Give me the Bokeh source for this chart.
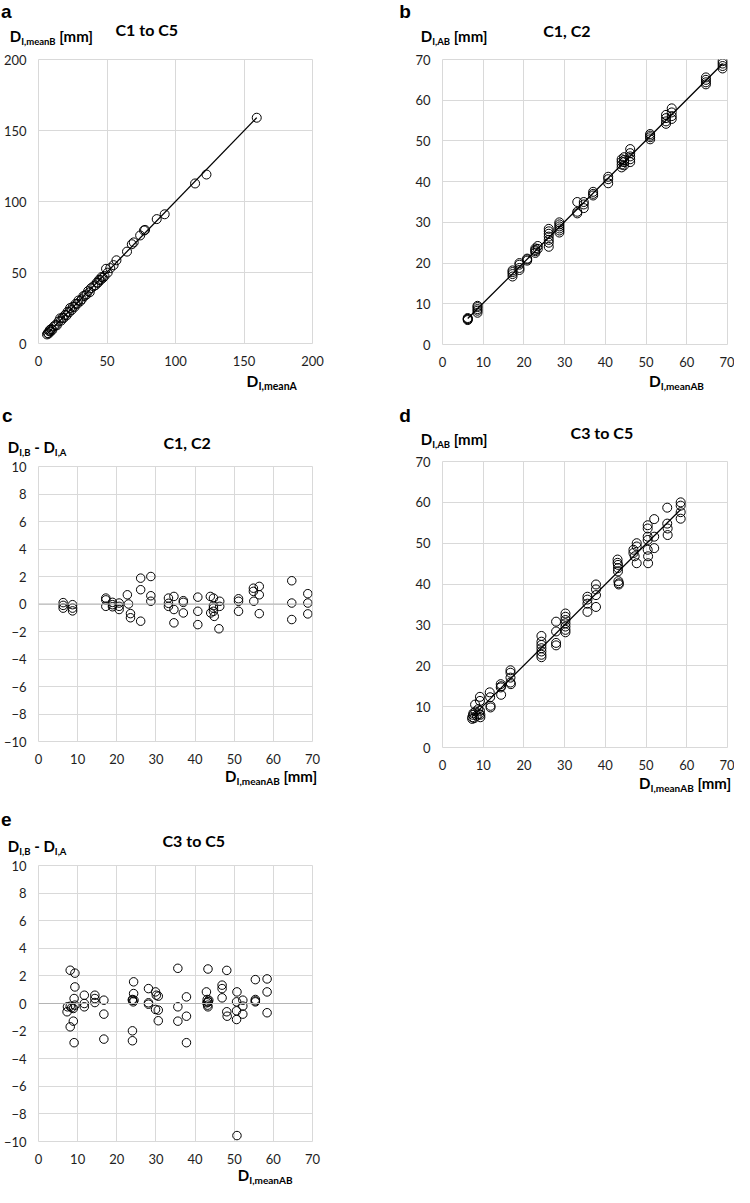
import numpy as np
from bokeh.plotting import figure
from bokeh.layouts import column, row
from bokeh.models import Span, FixedTicker, Range1d, Div
from bokeh.embed import file_html
from bokeh.resources import INLINE

# ---------------- data ----------------
# a: C1 to C5
a_meanA = [6.2, 6.8, 7.4, 7.9, 8.3, 8.8, 9.3, 10.1, 11.2, 12.5,
           13.4, 14.6, 15.8, 16.5, 17.6, 18.3, 19.4, 20.5, 21.3, 22.4,
           23.1, 24.2, 25.0, 26.3, 27.1, 28.4, 29.2, 30.5, 31.6, 32.8,
           33.9, 35.1, 36.2, 37.4, 38.3, 40.1, 41.5, 42.6, 43.4, 44.3,
           45.2, 46.1, 47.0, 48.2, 49.3, 50.5, 52.4, 54.8, 56.9, 64.6,
           68.1, 69.5, 74.2, 77.0, 77.8, 86.3, 92.1, 114.3, 122.6, 159.3]
a_meanB = [6.4, 7.3, 7.0, 8.6, 9.5, 8.4, 10.2, 9.6, 12.0, 13.1,
           12.8, 15.5, 17.7, 16.1, 18.2, 17.9, 20.1, 19.8, 22.4, 22.0,
           25.0, 23.6, 25.8, 25.7, 27.9, 28.0, 30.3, 29.8, 31.1, 33.4,
           33.7, 34.6, 36.9, 36.1, 38.9, 40.3, 41.0, 42.9, 42.8, 44.9,
           44.6, 46.8, 46.2, 47.5, 52.6, 49.9, 53.1, 55.2, 58.6, 64.7,
           69.9, 71.2, 76.1, 79.6, 80.0, 87.6, 91.0, 112.7, 119.0, 159.0]

# b: C1, C2  (D_I,meanAB vs D_I,AB)
b_meanAB = [6.2, 6.2, 6.2, 6.2,
            8.6, 8.6, 8.6, 8.6, 8.6,
            17.2, 17.2, 17.2, 17.2,
            18.9, 18.9, 18.9, 18.9,
            20.8, 20.8, 20.8,
            22.8, 22.8, 22.8, 22.8, 23.4, 23.4,
            26.1, 26.1, 26.1, 26.1, 26.1, 26.1, 26.1,
            28.7, 28.7, 28.7, 28.7, 28.7, 28.7,
            33.1, 33.1, 33.1,
            34.7, 34.7, 34.7,
            37.0, 37.0, 37.0,
            40.7, 40.7, 40.7,
            44.0, 44.0, 44.0, 44.0,
            44.6, 44.6, 44.6, 44.6,
            46.1, 46.1, 46.1, 46.1, 46.1,
            51.0, 51.0, 51.0, 51.0,
            54.9, 54.9, 54.9, 54.9,
            56.3, 56.3, 56.3, 56.3,
            64.7, 64.7, 64.7, 64.7,
            68.8, 68.8, 68.8, 68.8]
b_AB = [6.0, 6.3, 6.5, 6.2,
        7.8, 8.3, 8.7, 9.2, 9.5,
        16.7, 17.3, 17.8, 18.2,
        18.3, 18.8, 19.6, 20.0,
        20.6, 20.9, 21.1,
        22.5, 22.9, 23.2, 23.6, 23.5, 24.2,
        24.0, 25.0, 25.7, 26.5, 27.2, 27.8, 28.4,
        27.5, 28.0, 28.5, 29.0, 29.5, 30.0,
        32.2, 32.6, 35.0,
        33.5, 34.4, 35.0,
        36.6, 37.0, 37.5,
        39.6, 40.6, 41.2,
        43.5, 44.2, 44.9, 45.5,
        44.0, 44.8, 45.3, 46.0,
        44.8, 45.5, 46.2, 47.0, 48.0,
        50.4, 50.9, 51.3, 51.7,
        54.2, 54.8, 55.6, 56.4,
        55.4, 56.1, 57.0, 58.0,
        63.9, 64.4, 65.0, 65.6,
        67.8, 68.4, 69.0, 69.6]

# c: C1, C2 differences
c_meanAB = [6.3, 6.3, 6.3, 8.7, 8.7, 8.7, 17.2, 17.2, 17.2, 18.9, 18.9, 18.9,
            20.6, 20.6, 20.6, 22.7, 23.0, 23.5, 23.5, 26.1, 26.1, 26.1,
            28.7, 28.7, 28.7, 33.2, 33.2, 33.2, 34.6, 34.6, 34.6,
            37.0, 37.0, 37.0, 40.7, 40.7, 40.7, 43.9, 44.0,
            44.7, 44.7, 44.7, 44.7, 44.9, 46.3, 46.3, 46.1,
            51.1, 51.1, 51.1, 54.9, 54.9, 55.0, 56.4, 56.4, 56.4,
            64.7, 64.7, 64.7, 68.8, 68.8, 68.8]
c_diff = [0.1, -0.1, -0.3, -0.05, -0.3, -0.5, 0.43, 0.3, -0.17, 0.12, -0.05, -0.2,
          0.07, -0.17, -0.4, 0.67, 0.0, -0.7, -1.0, 1.88, 1.04, -1.25,
          2.0, 0.6, 0.2, 0.43, 0.05, -0.17, 0.55, -0.4, -1.37,
          0.24, 0.12, -0.65, 0.5, -0.53, -1.5, 0.55, -0.65,
          0.43, -0.12, -0.3, -0.53, -0.9, 0.2, -0.17, -1.8,
          0.38, 0.2, -0.53, 1.15, 0.92, 0.2, 1.28, 0.67, -0.7,
          1.69, 0.07, -1.13, 0.75, 0.07, -0.72]

# d: C3 to C5
d_meanAB = [7.3, 7.3, 7.5, 7.6, 7.8, 8.0, 8.1, 8.4, 8.8, 9.0, 9.2, 9.2, 9.2, 9.3, 9.3,
            11.6, 11.7, 11.8, 11.8, 14.3, 14.3, 14.4, 14.4,
            16.7, 16.7, 16.7, 16.7, 16.8,
            24.3, 24.3, 24.3, 24.3, 24.3, 24.3, 24.3,
            27.9, 27.9, 27.9, 27.9,
            30.2, 30.2, 30.2, 30.2, 30.2, 30.2, 30.2,
            35.6, 35.6, 35.6, 35.6, 37.7, 37.7, 37.7, 37.7,
            43.0, 43.0, 43.1, 43.1, 43.1, 43.2, 43.3, 43.3,
            46.9, 46.9, 47.2, 47.7, 47.7, 47.7,
            50.4, 50.4, 50.4, 50.4, 50.4, 50.5, 50.5,
            52.0, 52.0, 52.0, 55.2, 55.2, 55.3, 55.3,
            58.5, 58.5, 58.5, 58.5]
d_AB = [7.0, 7.4, 8.0, 8.4, 7.2, 10.5, 8.8, 7.8, 9.4, 8.2, 12.4, 11.4, 9.0, 8.0, 7.4,
        13.5, 12.3, 10.2, 9.8, 15.5, 14.7, 12.9, 15.0,
        18.9, 18.3, 17.1, 15.9, 15.5,
        27.3, 25.9, 25.1, 24.3, 23.5, 22.7, 22.1,
        30.8, 28.4, 25.6, 25.0,
        32.8, 32.0, 31.2, 30.4, 29.6, 28.8, 28.2,
        36.9, 36.2, 35.2, 33.2, 39.9, 38.7, 37.3, 34.4,
        46.0, 45.2, 44.7, 43.9, 43.1, 40.7, 40.2, 39.9,
        48.4, 47.6, 46.8, 50.0, 49.2, 45.1,
        54.4, 53.6, 51.6, 50.8, 48.4, 46.8, 45.1,
        55.9, 51.6, 48.8, 58.7, 54.8, 53.6, 52.0,
        60.0, 59.2, 57.6, 56.0]

# e: C3 to C5 differences
e_meanAB = [8.1, 9.3, 9.3, 9.1, 11.7, 14.4, 14.4, 16.7, 24.3, 24.3, 24.0, 24.4,
            28.1, 29.9, 30.1, 30.6, 35.6, 37.8, 43.3, 42.9, 43.1, 43.3,
            48.1, 46.9, 46.9, 46.9, 50.7, 52.2, 55.4, 55.4, 58.4, 58.4,
            7.4, 7.3, 8.1, 8.5, 8.9, 8.1, 8.9, 9.1, 9.3,
            11.7, 11.7, 14.4, 16.7, 16.7, 24.0, 24.2, 24.0, 24.0,
            28.1, 28.1, 29.9, 30.6, 30.6, 35.6, 35.6, 37.8, 37.8,
            43.0, 43.2, 43.3, 43.3, 43.5, 48.1, 48.2,
            50.6, 50.6, 50.6, 50.7, 52.2, 52.2, 55.4, 55.4, 58.4]
e_diff = [2.41, 2.2, 1.2, 0.36, 0.6, 0.6, 0.36, 0.24, 1.57, 0.72, 0.29, 0.24,
          1.08, 0.84, 0.6, 0.53, 2.55, 0.48, 2.5, 0.84, 0.29, 0.12,
          2.4, 1.33, 1.08, 0.41, 0.84, 0.24, 1.73, 0.29, 1.78, 0.84,
          -0.24, -0.6, -0.2, -0.3, -0.36, -1.69, -1.28, -2.84, -0.12,
          0.0, -0.24, 0.07, -0.77, -2.58, 0.24, 0.12, -1.98, -2.7,
          0.05, -0.05, -0.43, -0.48, -1.25, -0.24, -1.28, -0.92, -2.84,
          0.05, -0.12, 0.12, -0.24, 0.24, -0.6, -0.92,
          0.12, -0.53, -1.16, -9.57, -0.19, -0.77, 0.19, 0.12, -0.67]

ticks_a = [0, 50, 100, 150, 200]
ticks_ab = [0, 10, 20, 30, 40, 50, 60, 70]
ticks_diff = [-10, -8, -6, -4, -2, 0, 2, 4, 6, 8, 10]

# ---------------- layout geometry ----------------
W, H = 734, 1187
SX, SY = W / 750.0, H / 1203.0
COLW = 367

GRID = "#d9d9d9"
TXT = "#1e1e1e"


def make_fig(frame_ref, col, fig_top, fig_bot, xr, yr, xt, yt):
    fx0 = col * COLW
    L, T, R, B = frame_ref
    bl = int(round(SX * L - fx0))
    fw = int(round(SX * R - fx0)) - bl
    br = COLW - bl - fw
    fhh = fig_bot - fig_top
    bt = int(round(SY * T - fig_top))
    fh = int(round(SY * B - fig_top)) - bt
    bb = fhh - bt - fh
    p = figure(width=COLW, height=fhh, x_range=Range1d(*xr), y_range=Range1d(*yr),
               output_backend="svg", toolbar_location=None,
               min_border_left=bl, min_border_right=br,
               min_border_top=bt, min_border_bottom=bb)
    p.outline_line_color = GRID
    p.background_fill_color = "white"
    p.border_fill_color = "white"
    p.xaxis.ticker = FixedTicker(ticks=xt)
    p.yaxis.ticker = FixedTicker(ticks=yt)
    p.xgrid.ticker = FixedTicker(ticks=xt)
    p.ygrid.ticker = FixedTicker(ticks=yt)
    p.xgrid.grid_line_color = GRID
    p.ygrid.grid_line_color = GRID
    for ax in (p.xaxis[0], p.yaxis[0]):
        ax.axis_line_color = None
        ax.major_tick_line_color = None
        ax.minor_tick_line_color = None
        ax.major_tick_out = 0
        ax.major_tick_in = 0
        ax.major_label_text_font = "Lato"
        ax.major_label_text_font_size = "13px"
        ax.major_label_text_color = TXT
    p.xaxis.major_label_standoff = 12
    p.yaxis.major_label_standoff = 12
    return p


def circles(p, x, y, size=9):
    p.scatter(x, y, marker="circle", size=size, fill_color=None,
              line_color="black", line_width=1)


def trend(p, x, y):
    x = np.asarray(x, float)
    y = np.asarray(y, float)
    k, c = np.polyfit(x, y, 1)
    xs = np.array([x.min(), x.max()])
    p.line(xs, k * xs + c, line_color="black", line_width=1.3)


FONTS = {"lato": ("Lato", 0.987, 1.2), "lib": ("Liberation Sans", 0.905, 1.117)}


def sub(t, fs=10):
    return f'<span style="font-size:{fs}px;position:relative;top:3px;">{t}</span>'


def item(rx, rbl, html, fs, kind="lato", right=None):
    return (rx, rbl, html, fs, kind, right)


def make_div(col, top, bot, items):
    h = bot - top
    parts = []
    for rx, rbl, html, fs, kind, right in items:
        fam, asc, lh = FONTS[kind]
        y = SY * rbl - top - asc * fs
        if right is None:
            pos = f"left:{SX * rx - col * COLW:.1f}px;"
        else:
            pos = f"right:{COLW - (SX * right - col * COLW):.1f}px;"
        parts.append(
            f'<span style="position:absolute;{pos}top:{y:.1f}px;'
            f'font-family:\'{fam}\';font-weight:bold;font-size:{fs}px;'
            f'line-height:{lh};white-space:nowrap;color:black;">{html}</span>')
    html = (f'<div style="position:relative;width:{COLW}px;height:{h}px;">'
            + "".join(parts) + "</div>")
    return Div(text=html, width=COLW, height=h, margin=0)


# vertical stacking (layout px)
L_A = (51, 372)
L_C = (459, 769)
L_E = (858, 1169)
R_B = (51, 373)
R_D = (452, 775)

# ---- figures ----
fa = make_fig((37, 60, 319, 348), 0, *L_A, (0, 200), (0, 200), ticks_a, ticks_a)
trend(fa, a_meanA, a_meanB)
circles(fa, a_meanA, a_meanB)

fb = make_fig((452, 60, 743, 349), 1, *R_B, (0, 70), (0, 70), ticks_ab, ticks_ab)
trend(fb, b_meanAB, b_AB)
circles(fb, b_meanAB, b_AB)

fc = make_fig((33, 472, 322, 751), 0, *L_C, (0, 70), (-10, 10), ticks_ab, ticks_diff)
fc.add_layout(Span(location=0, dimension="width", line_color="#b4b4b4", line_width=1))
circles(fc, c_meanAB, c_diff, 8.5)

fd = make_fig((452, 467, 743, 757), 1, *R_D, (0, 70), (0, 70), ticks_ab, ticks_ab)
trend(fd, d_meanAB, d_AB)
circles(fd, d_meanAB, d_AB)

fe = make_fig((33, 877, 322, 1156), 0, *L_E, (0, 70), (-10, 10), ticks_ab, ticks_diff)
fe.add_layout(Span(location=0, dimension="width", line_color="#b4b4b4", line_width=1))
circles(fe, e_meanAB, e_diff, 8.5)

# ---- texts ----
YL_MM = " [mm]"
dL1 = make_div(0, 0, L_A[0], [
    item(1, 18, "a", 19, "lib"),
    item(10, 42, "D" + sub("I,meanB", 9.5) + YL_MM, 15),
    item(118, 36, "C1 to C5", 16),
])
dL2 = make_div(0, L_A[1], L_C[0], [
    item(252, 392, "D" + sub("I,meanA", 10.5), 15.5),
    item(2, 428, "c", 19, "lib"),
    item(8, 459, "D" + sub("I,B", 9.5) + " - D" + sub("I,A", 9.5), 15),
    item(167, 455, "C1, C2", 16),
])
dL3 = make_div(0, L_C[1], L_E[0], [
    item(230, 792, "D" + sub("I,meanAB", 10) + YL_MM, 15),
    item(1, 837, "e", 19, "lib"),
    item(166, 858, "C3 to C5", 16),
    item(8, 863, "D" + sub("I,B", 9.5) + " - D" + sub("I,A", 9.5), 15),
])
dL4 = make_div(0, L_E[1], 1187, [
    item(243, 1197, "D" + sub("I,meanAB", 10), 15),
])
dR1 = make_div(1, 0, R_B[0], [
    item(408, 18, "b", 19, "lib"),
    item(430, 42, "D" + sub("I,AB", 9.5) + YL_MM, 15),
    item(555, 37, "C1, C2", 16),
])
dR2 = make_div(1, R_B[1], R_D[0], [
    item(663, 392, "D" + sub("I,meanAB", 10), 15.5),
    item(408, 428, "d", 19, "lib"),
    item(430, 451, "D" + sub("I,AB", 9.5) + YL_MM, 15),
    item(583, 445, "C3 to C5", 16),
])
dR3 = make_div(1, R_D[1], 1187, [
    item(663, 799, "D" + sub("I,meanAB", 10) + YL_MM, 15, right=747),
])

left = column(dL1, fa, dL2, fc, dL3, fe, dL4)
right = column(dR1, fb, dR2, fd, dR3)
layout = row(left, right)
open("out.html", "w").write(file_html(layout, INLINE))
